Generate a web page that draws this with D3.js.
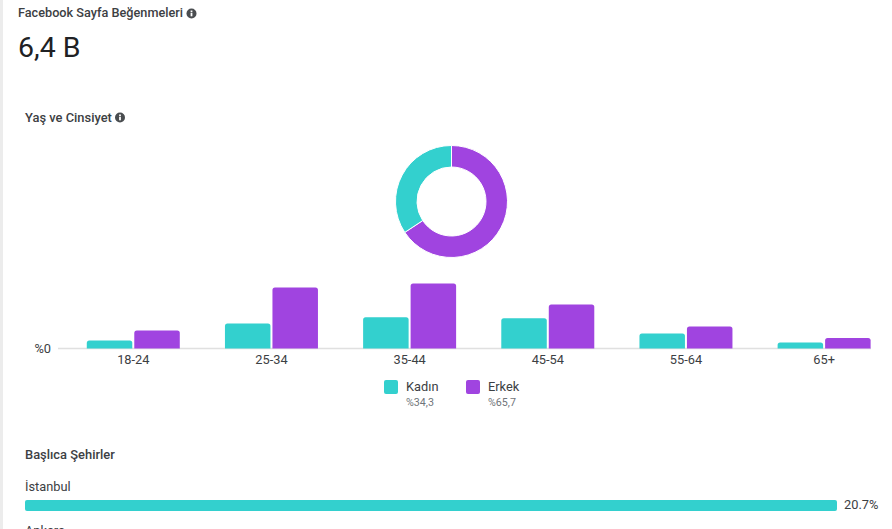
<!DOCTYPE html>
<html>
<head>
<meta charset="utf-8">
<script src="https://cdn.jsdelivr.net/npm/d3@7"></script>
<style>
    html, body {margin: 0; padding: 0; background: #fff; overflow: hidden;}
    text {font-family: Roboto, sans-serif;}
    .heading {font-size: 12.9px; font-weight: 500; fill: #3c4043;}
    .label {font-size: 12.8px; fill: #3c4043;}
    .small {font-size: 10.7px; fill: #70757a;}
    .axis .domain {stroke: #e0e0e0; stroke-width: 1.5;}
    .axis .tick line {display: none;}
    .axis .tick text {font-size: 12.8px; fill: #3c4043; font-family: Roboto, sans-serif;}
</style>
</head>
<body>
<div id="chart"></div>
<script>
//Values
const ageGroups = ["18-24", "25-34", "35-44", "45-54", "55-64", "65+"];
const womenValues = [2.4, 7.5, 9.3, 9.0, 4.5, 1.8];
const menValues = [5.4, 18.2, 19.4, 13.1, 6.6, 3.1];
const genderNames = ["Erkek", "Kadın"];
const genderValues = [65.7, 34.3];
const genderLabels = ["%65,7", "%34,3"];
//Only the first city's bar is inside the picture, the second is just a label cut by the edge
const cityNames = ["İstanbul", "Ankara"];
const cityValues = [20.7];

const teal = "#33d0ce";
const purple = "#a044e0";

const width = 892;
const height = 529;

const svg = d3.select("#chart")
    .append("svg")
    .attr("width", width)
    .attr("height", height)
    .style("display", "block");

//Grey strip down the left side of the page
svg.append("rect")
    .attr("width", 3)
    .attr("height", height)
    .attr("fill", "#ececec");

//Small "i" icon shown after the headings
function infoIcon(cx, cy) {
    const g = svg.append("g").attr("transform", `translate(${cx},${cy})`);
    g.append("circle").attr("r", 5).attr("fill", "#4a4d50");
    g.append("rect").attr("x", -0.9).attr("y", -0.8).attr("width", 1.8).attr("height", 3.6).attr("fill", "#fff");
    g.append("rect").attr("x", -0.9).attr("y", -3).attr("width", 1.8).attr("height", 1.5).attr("fill", "#fff");
}

//Headings
svg.append("text").attr("class", "heading").style("font-size", "12.7px").attr("x", 18).attr("y", 17).text("Facebook Sayfa Beğenmeleri");
infoIcon(191.5, 13.5);

svg.append("text")
    .attr("x", 18)
    .attr("y", 57)
    .style("font-size", "28.5px")
    .attr("fill", "#202124")
    .text("6,4 B");

svg.append("text").attr("class", "heading").attr("x", 25).attr("y", 122).text("Yaş ve Cinsiyet");
infoIcon(120, 117.5);

//Donut
const pie = d3.pie().sort(null)(genderValues);
const arc = d3.arc().innerRadius(34.5).outerRadius(56);

svg.append("g")
    .attr("transform", "translate(451.5,201.5)")
    .selectAll("path")
    .data(pie)
    .join("path")
    .attr("d", arc)
    .attr("fill", (d, i) => i == 0 ? purple : teal)
    .attr("stroke", "#fff")
    .attr("stroke-width", 1);

//Grouped bars
const baseline = 348.5;
const xScale = d3.scaleBand()
    .domain(ageGroups)
    .range([64.2, 893.2]);

const yScale = d3.scaleLinear()
    .domain([0, 20])
    .range([baseline, baseline - 67]);

const axis = svg.append("g")
    .attr("class", "axis")
    .attr("transform", `translate(0,${baseline})`)
    .call(d3.axisBottom(xScale).tickSize(0).tickPadding(6));

axis.select(".domain").attr("d", "M58,0H871");

const barWidth = 45.5;

//Rounded only at the top, sitting on the baseline
function barPath(x, value, w) {
    const y = yScale(value);
    const r = Math.min(2.5, baseline - y);
    return `M${x},${baseline}V${y + r}Q${x},${y} ${x + r},${y}H${x + w - r}Q${x + w},${y} ${x + w},${y + r}V${baseline}Z`;
}

svg.append("g")
    .selectAll("path")
    .data(ageGroups)
    .join("path")
    .attr("d", (d, i) => barPath(xScale(d) + xScale.bandwidth() / 2 - barWidth - 1, womenValues[i], barWidth))
    .attr("fill", teal);

svg.append("g")
    .selectAll("path")
    .data(ageGroups)
    .join("path")
    .attr("d", (d, i) => barPath(xScale(d) + xScale.bandwidth() / 2 + 1, menValues[i], barWidth))
    .attr("fill", purple);

svg.append("text")
    .attr("class", "label")
    .attr("x", 51)
    .attr("y", baseline + 4)
    .attr("text-anchor", "end")
    .text("%0");

//Legend
const legendX = {"Kadın": 384, "Erkek": 466};
genderNames.forEach((name, i) => {
    const x = legendX[name];
    svg.append("rect")
        .attr("x", x)
        .attr("y", 380)
        .attr("width", 14)
        .attr("height", 14)
        .attr("rx", 2)
        .attr("fill", name == "Kadın" ? teal : purple);
    svg.append("text").attr("class", "label").attr("x", x + 22).attr("y", 391).text(name);
    svg.append("text").attr("class", "small").attr("x", x + 22).attr("y", 406).text(genderLabels[i]);
});

//Cities
svg.append("text").attr("class", "heading").attr("x", 25).attr("y", 459).text("Başlıca Şehirler");

const cityScale = d3.scaleLinear()
    .domain([0, 20.7])
    .range([25, 837]);

cityNames.forEach((name, i) => {
    const top = 500 + i * 44;
    svg.append("text").attr("class", "label").attr("x", 25).attr("y", top - 9).text(name);
    if (cityValues[i] === undefined) return;
    svg.append("rect")
        .attr("x", cityScale(0))
        .attr("y", top)
        .attr("width", cityScale(cityValues[i]) - cityScale(0))
        .attr("height", 11)
        .attr("rx", 2)
        .attr("fill", teal);
    svg.append("text").attr("class", "label").attr("x", cityScale(cityValues[i]) + 7).attr("y", top + 9).text(cityValues[i] + "%");
});
</script>
</body>
</html>
